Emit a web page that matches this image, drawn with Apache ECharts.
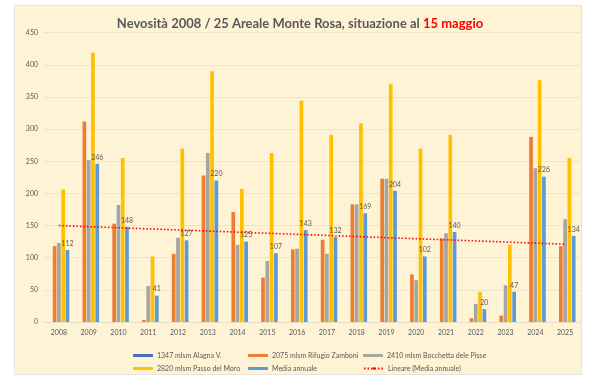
<!DOCTYPE html>
<html><head><meta charset="utf-8">
<script src="https://cdn.jsdelivr.net/npm/echarts@6/dist/echarts.min.js"></script>
<style>html,body{margin:0;padding:0;background:#fff}#c{width:600px;height:392px}</style>
</head><body><div id="c"></div>
<script>
const years = ['2008','2009','2010','2011','2012','2013','2014','2015','2016','2017','2018','2019','2020','2021','2022','2023','2024','2025'];
const alagna = [null,null,null,null,null,null,null,null,null,null,null,null,null,null,null,null,null,null];
const zamboni = [118,312,153,3,106,228,171,69,113,128,183,223,74,130,6,10,288,118];
const bocchetta = [123,252,182,56,131,263,120,95,114,106,183,223,65,138,28,57,239,160];
const moro = [206,419,255,102,270,390,207,263,344,291,309,370,270,291,47,120,376,255];
const media = [112,246,148,41,127,220,125,107,143,132,169,204,102,140,20,47,226,134];
const trendEnds = [150,121];
const yTicks = [0,50,100,150,200,250,300,350,400,450];

const names = ['1347 mlsm Alagna V.','2075 mlsm Rifugio Zamboni','2410 mlsm Bocchetta dele Pisse','2820 mlsm Passo del Moro','Media annuale','Lineare (Media annuale)'];
const colors = ['#4472C4','#ED7D31','#A5A5A5','#FFC000','#5B9BD5'];
const trend = years.map((y,i)=> i===0 ? trendEnds[0] : (i===years.length-1 ? trendEnds[1] : null));

const FONT = 'Lato, "Open Sans", sans-serif';
const chart = echarts.init(document.getElementById('c'), null, {renderer:'canvas'});
const legendPos = [[128,347],[243,347],[358,347],[128,360],[243,360],[358,360]];
const legends = names.map((n,i)=>({
  data:[n], left:legendPos[i][0], top:legendPos[i][1], itemWidth:20, itemHeight:3, itemGap:0,
  textStyle:{fontSize:7, color:'#595959', fontFamily:FONT, padding:[0,0,0,-1]}, selectedMode:false
}));
const barSeries = [alagna,zamboni,bocchetta,moro,media].map((d,i)=>({
  name:names[i], type:'bar', data:d, itemStyle:{color:colors[i]},
  barCategoryGap:'30%', barGap:'16%',
  label: i===4 ? {show:true, position:'top', distance:3, fontSize:7, color:'#595959', fontFamily:FONT} : {show:false},
  emphasis:{disabled:true}
}));
chart.setOption({
  animation:false,
  backgroundColor:'#fff',
  graphic:[{type:'rect', shape:{x:14.5,y:5.5,width:567,height:369}, style:{fill:'#FFF3D6', stroke:'#E4E4E4', lineWidth:1}, z:-10, silent:true}],
  title:{
    text:'{g|Nevosità 2008 / 25 Areale Monte Rosa, situazione al }{r|15 maggio}',
    left:'center', top:12,
    textStyle:{rich:{
      g:{fontSize:13, fontWeight:'bold', color:'#595959', fontFamily:FONT},
      r:{fontSize:13, fontWeight:'bold', color:'#FF0000', fontFamily:FONT}
    }}
  },
  legend: legends,
  grid:{left:44, right:20, top:32.7, bottom:70},
  xAxis:{type:'category', data:years,
    axisLine:{lineStyle:{color:'#E6DFCB'}}, axisTick:{show:false},
    axisLabel:{fontSize:7, color:'#595959', fontFamily:FONT, margin:7}},
  yAxis:{type:'value', min:0, max:450, interval:50,
    axisLine:{show:false}, axisTick:{show:false},
    splitLine:{lineStyle:{color:'#EBE4CF'}},
    axisLabel:{fontSize:7, color:'#595959', fontFamily:FONT, margin:6, formatter:v=> yTicks.includes(v)? String(v):''}},
  series: barSeries.concat([{
    name:names[5], type:'line', data:trend, connectNulls:true, symbol:'none',
    lineStyle:{color:'#FF0000', width:1.6, type:[1.5,2]}, itemStyle:{color:'#FF0000'}, z:5, emphasis:{disabled:true}
  }])
});
</script></body></html>
